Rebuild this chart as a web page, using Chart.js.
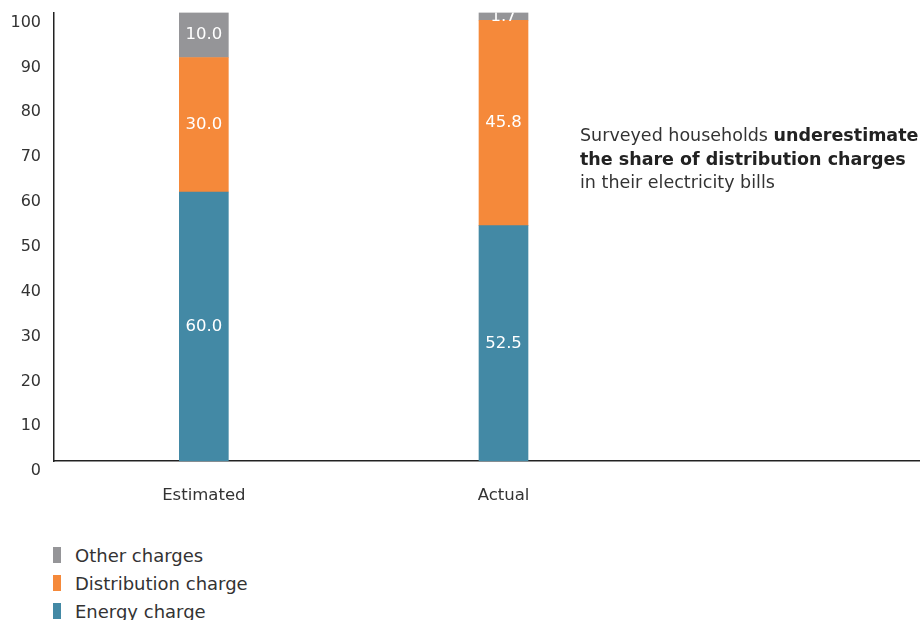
<!DOCTYPE html>
<html>
<head>
<meta charset="utf-8">
<script src="https://cdn.jsdelivr.net/npm/chart.js@4/dist/chart.umd.min.js"></script>
<style>
  html, body { margin: 0; padding: 0; width: 920px; height: 620px; overflow: hidden; background: #fff; }
  body { position: relative; font-family: "DejaVu Sans", sans-serif; color: #333; }
  #wrap { position: absolute; left: 0; top: -2px; width: 953px; height: 525px; }
  #note { position: absolute; left: 580px; top: 124px; font-size: 17.5px; line-height: 23.5px; white-space: nowrap; color: #333; }
  #note b { color: #222; }
  #legend { position: absolute; left: 53px; top: 541px; font-size: 18px; color: #333; }
  #legend .item { display: flex; align-items: center; height: 28px; }
  #legend .sw { width: 8px; height: 16px; margin-right: 14px; }
</style>
</head>
<body>
<div id="wrap"><canvas id="chart"></canvas></div>
<div id="note">Surveyed households <b>underestimate<br>the share of distribution charges</b><br>in their electricity bills</div>
<div id="legend"></div>
<script>
const categories = ['Estimated', 'Actual', ''];
const energyCharge = [60.0, 52.5, null];
const distributionCharge = [30.0, 45.8, null];
const otherCharges = [10.0, 1.7, null];
const yTicks = [0, 10, 20, 30, 40, 50, 60, 70, 80, 90, 100];

const FONT = '"DejaVu Sans", sans-serif';

// white value labels in the middle of each segment
const segmentLabels = {
    id: 'segmentLabels',
    afterDatasetsDraw(chart) {
        const ctx = chart.ctx;
        const area = chart.chartArea;
        ctx.save();
        ctx.beginPath();
        ctx.rect(area.left, area.top, area.right - area.left, area.bottom - area.top);
        ctx.clip();
        ctx.fillStyle = '#fff';
        ctx.font = '16.5px ' + FONT;
        ctx.textAlign = 'center';
        ctx.textBaseline = 'middle';
        chart.data.datasets.forEach((ds, i) => {
            chart.getDatasetMeta(i).data.forEach((bar, j) => {
                const v = ds.data[j];
                if (v == null) return;
                ctx.fillText(v.toFixed(1), bar.x, (bar.y + bar.base) / 2);
            });
        });
        ctx.restore();
    }
};

const chart = new Chart(document.getElementById('chart'), {
    type: 'bar',
    data: {
        labels: categories,
        datasets: [
            { label: 'Energy charge', data: energyCharge, backgroundColor: '#4389A5' },
            { label: 'Distribution charge', data: distributionCharge, backgroundColor: '#F5893A' },
            { label: 'Other charges', data: otherCharges, backgroundColor: '#959598' }
        ]
    },
    options: {
        responsive: true,
        maintainAspectRatio: false,
        animation: false,
        layout: { padding: { top: 1, left: 0, right: 0, bottom: 0 } },
        datasets: { bar: { barThickness: 49, borderWidth: 0 } },
        plugins: {
            legend: { display: false },
            tooltip: { enabled: false }
        },
        scales: {
            x: {
                stacked: true,
                grid: { display: false },
                border: { display: true, color: '#222', width: 1.5 },
                ticks: { color: '#333', font: { family: FONT, size: 16.5 }, padding: 17 }
            },
            y: {
                stacked: true,
                min: 0,
                max: 100,
                afterBuildTicks: axis => { axis.ticks = yTicks.map(v => ({ value: v })); },
                afterFit: axis => { axis.width = 54; },
                grid: { display: false },
                border: { display: true, color: '#222', width: 1.5 },
                ticks: { color: '#333', font: { family: FONT, size: 16 }, padding: 5, labelOffset: 10 }
            }
        }
    },
    plugins: [segmentLabels]
});

// vertical legend, top item = last dataset
const legend = document.getElementById('legend');
chart.data.datasets.slice().reverse().forEach(ds => {
    const item = document.createElement('div');
    item.className = 'item';
    item.innerHTML = '<span class="sw" style="background:' + ds.backgroundColor + '"></span><span>' + ds.label + '</span>';
    legend.appendChild(item);
});
</script>
</body>
</html>
